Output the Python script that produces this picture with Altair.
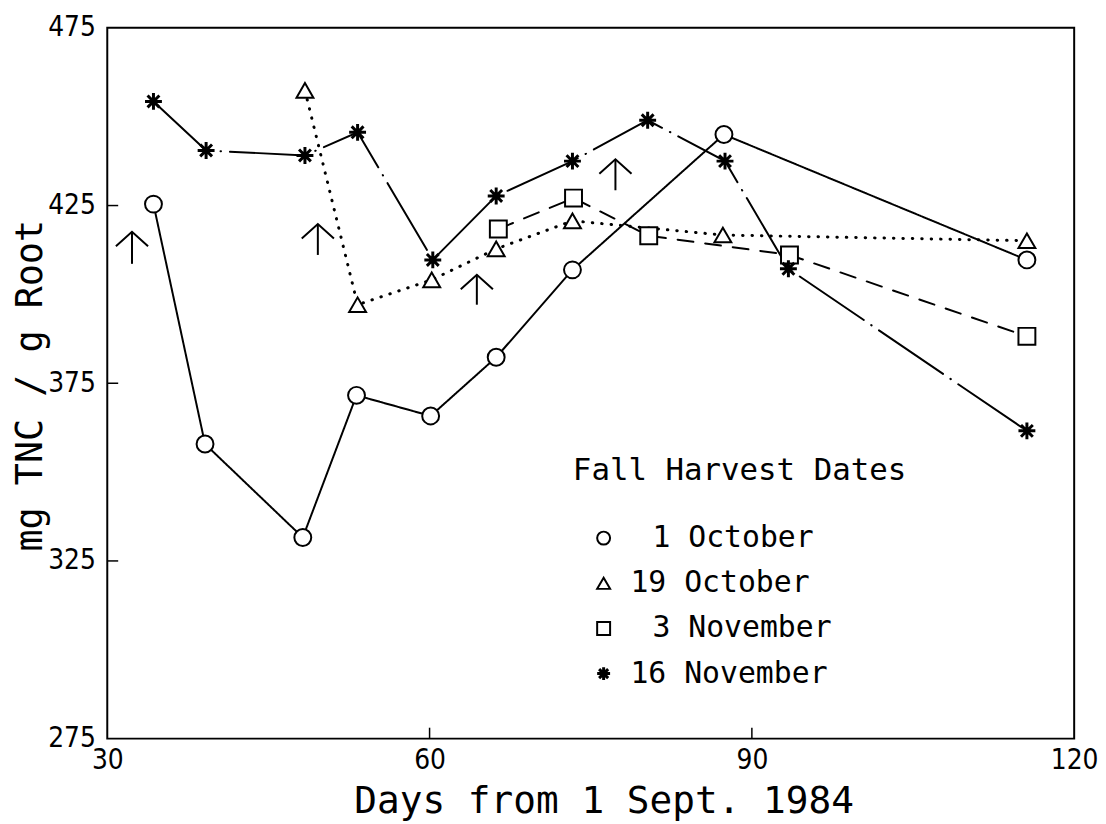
import altair as alt
import pandas as pd

# ---- data ----
PAD = "\u2800"  # blank cell used to right-align the day numbers in the legend
series_labels = [PAD + "1 October", "19 October", PAD + "3 November", "16 November"]

oct1_days = [34.3, 39.1, 48.2, 53.2, 60.1, 66.2, 73.3, 87.4, 115.6]
oct1_tnc = [425.4, 357.9, 331.6, 371.6, 365.8, 382.3, 406.9, 445.0, 409.7]

oct19_days = [48.4, 53.3, 60.2, 66.2, 73.3, 87.3, 115.6]
oct19_tnc = [457.4, 397.1, 404.1, 412.8, 420.7, 416.7, 415.1]

nov3_days = [66.4, 73.4, 80.4, 93.5, 115.6]
nov3_tnc = [418.4, 427.1, 416.5, 411.1, 388.2]

nov16_days = [34.3, 39.2, 48.4, 53.3, 60.3, 66.2, 73.3, 80.3, 87.5, 93.4, 115.6]
nov16_tnc = [454.3, 440.5, 439.1, 445.6, 409.7, 427.7, 437.5, 449.0, 437.5, 407.2, 361.6]

# harvest arrows (x, stem top, stem bottom)
arrow_days = [32.3, 49.6, 64.4, 77.3]
arrow_top = [417.6, 419.8, 405.5, 438.0]
arrow_bottom = [408.6, 411.1, 397.1, 429.3]

x_tick_values = [30, 60, 90, 120]
y_tick_values = [275, 325, 375, 425, 475]
x_inner_ticks = [60, 90]
y_inner_ticks = [325, 375, 425]

# ---- tables ----
rows = []
for lab, xs, ys in [
    (series_labels[0], oct1_days, oct1_tnc),
    (series_labels[1], oct19_days, oct19_tnc),
    (series_labels[2], nov3_days, nov3_tnc),
    (series_labels[3], nov16_days, nov16_tnc),
]:
    for x, y in zip(xs, ys):
        rows.append({"series": lab, "dash": lab + " ", "day": x, "tnc": y})
df = pd.DataFrame(rows)
dash_keys = [s + " " for s in series_labels]

arrows = pd.DataFrame({"day": arrow_days, "top": arrow_top, "bottom": arrow_bottom})
xt = pd.DataFrame({"day": x_inner_ticks})
yt = pd.DataFrame({"tnc": y_inner_ticks})

MONO = "DejaVu Sans Mono"
NARROW = "'Liberation Sans Narrow', 'DejaVu Sans Condensed', 'Roboto Condensed', 'DejaVu Sans'"

W, H = 974, 716

xscale = alt.Scale(domain=[30, 120], nice=False, zero=False)
yscale = alt.Scale(domain=[275, 475], nice=False, zero=False)

xaxis = alt.Axis(
    values=x_tick_values, ticks=False, domain=False, grid=False,
    labelFont=NARROW, labelFontSize=28, labelPadding=8, labelColor="black",
    labelFlush=False, labelOverlap=False,
    labelExpr="datum.value == 120 ? '120\u00a0' : datum.label",
    title="Days from 1 Sept. 1984", titleFont=MONO, titleFontSize=38,
    titleFontWeight="normal", titleColor="black",
    titleX=500, titleY=74, titleBaseline="alphabetic",
)
yaxis = alt.Axis(
    values=y_tick_values, ticks=False, domain=False, grid=False,
    labelFont=NARROW, labelFontSize=28, labelPadding=12, labelColor="black",
    labelFlush=False, labelOverlap=False,
    title="mg TNC / g Root", titleFont=MONO, titleFontSize=37,
    titleFontWeight="normal", titleColor="black",
    titleX=-66, titleY=360, titleBaseline="alphabetic",
)

asterisk = "M-1,0L1,0M0,-1L0,1M-0.7,-0.7L0.7,0.7M-0.7,0.7L0.7,-0.7"
shape_range = ["circle", "triangle-up", "square", asterisk]

base = alt.Chart(df)

lines = base.mark_line(color="black", strokeCap="round").encode(
    x=alt.X("day:Q", scale=xscale, axis=xaxis),
    y=alt.Y("tnc:Q", scale=yscale, axis=yaxis),
    detail="dash:N",
    strokeDash=alt.StrokeDash(
        "dash:N",
        scale=alt.Scale(domain=dash_keys,
                        range=[[1, 0], [0.5, 9], [16, 12], [78, 9, 0.5, 9]]),
        legend=None,
    ),
    strokeWidth=alt.StrokeWidth(
        "dash:N",
        scale=alt.Scale(type="ordinal", domain=dash_keys, range=[2, 3, 2, 2]),
        legend=None,
    ),
)

# white fill under the hollow markers so lines stop at the marker edge
underlay = base.mark_point(filled=True, color="white", size=290, opacity=1).encode(
    x=alt.X("day:Q", scale=xscale),
    y=alt.Y("tnc:Q", scale=yscale),
    shape=alt.Shape("dash:N", scale=alt.Scale(domain=dash_keys, range=shape_range),
                    legend=None),
)

points = base.mark_point(filled=False, color="black", size=290, opacity=1).encode(
    x=alt.X("day:Q", scale=xscale),
    y=alt.Y("tnc:Q", scale=yscale),
    strokeWidth=alt.StrokeWidth(
        "series:N",
        scale=alt.Scale(type="ordinal", domain=series_labels, range=[2, 2, 2, 3]),
        legend=None,
    ),
    shape=alt.Shape(
        "series:N",
        scale=alt.Scale(domain=series_labels, range=shape_range),
        legend=alt.Legend(
            title="Fall Harvest Dates", orient="none", legendX=469, legendY=431,
            titleFont=MONO, titleFontSize=31, titleFontWeight="normal",
            titleColor="black", titlePadding=37, titleLimit=600,
            labelFont=MONO, labelFontSize=30, labelColor="black", labelLimit=600,
            symbolSize=170, symbolStrokeWidth=2, symbolStrokeColor="black",
            symbolFillColor="white", symbolOffset=16, labelOffset=12,
            rowPadding=15.5, padding=0,
        ),
    ),
)

xticks = alt.Chart(xt).mark_rule(color="black", strokeWidth=1.5).encode(
    x=alt.X("day:Q", scale=xscale), y=alt.value(H), y2=alt.value(H - 11)
)
yticks = alt.Chart(yt).mark_rule(color="black", strokeWidth=1.5).encode(
    y=alt.Y("tnc:Q", scale=yscale), x=alt.value(0), x2=alt.value(11)
)

stems = alt.Chart(arrows).mark_rule(color="black", strokeWidth=2).encode(
    x=alt.X("day:Q", scale=xscale),
    y=alt.Y("top:Q", scale=yscale),
    y2="bottom:Q",
)
heads = alt.Chart(arrows).mark_point(
    shape="M-1,0.9L0,0L1,0.9", filled=False, stroke="black",
    strokeWidth=2, size=1050, opacity=1,
).encode(
    x=alt.X("day:Q", scale=xscale),
    y=alt.Y("top:Q", scale=yscale),
)

chart = alt.layer(lines, underlay, points, xticks, yticks, stems, heads).resolve_scale(
    shape="independent", strokeWidth="independent"
).properties(
    width=W, height=H,
    autosize=alt.AutoSizeParams(type="none"),
    padding={"left": 100, "top": 17, "right": 24, "bottom": 83},
).configure(
    background="white",
    view=alt.ViewConfig(stroke="black", strokeWidth=2),
)

chart.save("out.html", embed_options={"renderer": "svg", "actions": False})
